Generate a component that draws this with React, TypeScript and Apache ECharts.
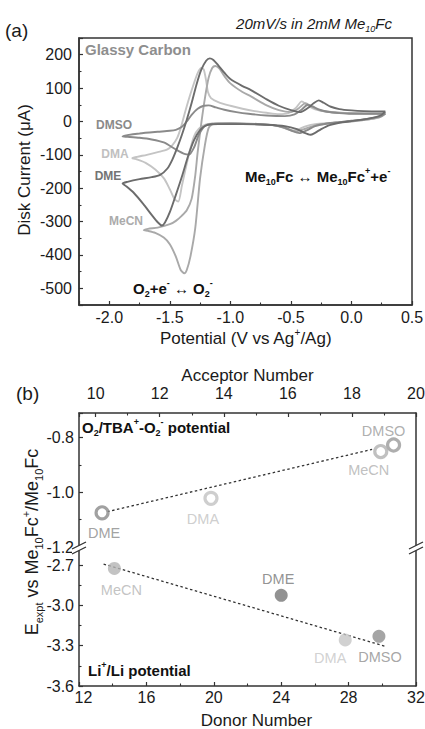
import React, { useEffect, useRef } from "react";
import * as echarts from "echarts";

const FONT = '"Liberation Sans", Arial, Helvetica, sans-serif';
const AXIS = "#333333";
const TXT = "#1a1a1a";

// ---------- Panel (a): cyclic voltammograms [V vs Ag+/Ag, µA] ----------
const cvDMSO: number[][] = [
  [0.28, 24], [0.25, 17], [0.2, 12], [0.1, 6], [0, 2], [-0.1, -2], [-0.2, -6], [-0.3, -14], [-0.37, -27], [-0.43, -35],
  [-0.48, -30], [-0.55, -19], [-0.65, -11], [-0.8, -8], [-1.0, -6], [-1.15, -7], [-1.21, -14], [-1.26, -40], [-1.3, -78],
  [-1.34, -99], [-1.38, -97], [-1.45, -84], [-1.55, -63], [-1.65, -54], [-1.75, -49], [-1.85, -46], [-1.89, -45],
  [-1.85, -41], [-1.75, -36], [-1.6, -31], [-1.5, -28], [-1.45, -25], [-1.4, -16], [-1.36, 0], [-1.32, 20], [-1.27, 38],
  [-1.22, 47], [-1.18, 48], [-1.12, 42], [-1.05, 35], [-0.95, 28], [-0.85, 23], [-0.7, 18], [-0.55, 16], [-0.47, 21],
  [-0.41, 36], [-0.36, 50], [-0.32, 45], [-0.27, 36], [-0.2, 29], [-0.1, 25], [0, 23], [0.1, 23], [0.28, 24],
];
const cvDMA: number[][] = [
  [0.28, 23], [0.25, 15], [0.2, 9], [0.1, 4], [0, 1], [-0.15, -4], [-0.3, -8], [-0.38, -15], [-0.44, -24], [-0.49, -28],
  [-0.54, -22], [-0.62, -13], [-0.75, -8], [-0.95, -6], [-1.1, -6], [-1.2, -9], [-1.26, -22], [-1.3, -45], [-1.34, -95],
  [-1.37, -142], [-1.4, -192], [-1.43, -240], [-1.46, -233], [-1.5, -203], [-1.55, -170], [-1.62, -144], [-1.7, -124],
  [-1.77, -114], [-1.81, -110],
  [-1.77, -106], [-1.69, -100], [-1.6, -92], [-1.52, -84], [-1.48, -72], [-1.44, -50], [-1.41, -20], [-1.38, 20],
  [-1.34, 70], [-1.3, 115], [-1.27, 145], [-1.24, 160], [-1.22, 156], [-1.2, 122], [-1.185, 88], [-1.16, 70],
  [-1.1, 58], [-1.0, 47], [-0.9, 38], [-0.8, 31], [-0.7, 26], [-0.6, 22], [-0.52, 25], [-0.46, 40], [-0.41, 60],
  [-0.37, 50], [-0.3, 36], [-0.2, 29], [-0.1, 26], [0.1, 24], [0.28, 23],
];
const cvDME: number[][] = [
  [0.28, 30], [0.25, 20], [0.2, 13], [0.1, 6], [0, 1], [-0.1, -4], [-0.18, -11], [-0.25, -23], [-0.3, -34], [-0.34, -40],
  [-0.39, -34], [-0.45, -23], [-0.55, -14], [-0.7, -10], [-0.9, -8], [-1.1, -8], [-1.2, -12], [-1.25, -26], [-1.3, -56],
  [-1.35, -105], [-1.4, -165], [-1.45, -220], [-1.5, -272], [-1.54, -303], [-1.565, -312], [-1.6, -302], [-1.65, -280],
  [-1.72, -247], [-1.8, -213], [-1.86, -194], [-1.89, -186],
  [-1.85, -181], [-1.75, -173], [-1.65, -167], [-1.58, -160], [-1.52, -141], [-1.48, -115], [-1.44, -80], [-1.4, -40],
  [-1.36, 5], [-1.32, 55], [-1.28, 110], [-1.24, 155], [-1.2, 182], [-1.17, 189], [-1.14, 184], [-1.1, 168],
  [-1.05, 146], [-1.0, 127], [-0.9, 106], [-0.83, 94], [-0.7, 66], [-0.6, 47], [-0.5, 34], [-0.42, 28], [-0.36, 40],
  [-0.31, 55], [-0.27, 63], [-0.23, 56], [-0.17, 44], [-0.1, 37], [0, 33], [0.1, 31], [0.28, 30],
];
const cvMeCN: number[][] = [
  [0.28, 24], [0.25, 16], [0.2, 10], [0.1, 4], [0, 0], [-0.1, -3], [-0.2, -6], [-0.3, -12], [-0.38, -22], [-0.46, -30],
  [-0.52, -23], [-0.6, -14], [-0.75, -8], [-0.95, -6], [-1.1, -6], [-1.15, -9], [-1.18, -20], [-1.21, -70], [-1.25, -170],
  [-1.29, -320], [-1.33, -405], [-1.36, -445], [-1.38, -455], [-1.41, -445], [-1.45, -405], [-1.5, -368], [-1.55, -348],
  [-1.62, -334], [-1.68, -328], [-1.715, -326],
  [-1.68, -322], [-1.6, -318], [-1.5, -308], [-1.45, -298], [-1.4, -282], [-1.36, -266], [-1.32, -232], [-1.29, -162],
  [-1.27, -92], [-1.24, -5], [-1.21, 70], [-1.18, 130], [-1.15, 160], [-1.124, 166], [-1.09, 158], [-1.05, 136],
  [-1.0, 114], [-0.9, 88], [-0.83, 75], [-0.7, 48], [-0.6, 34], [-0.5, 28], [-0.44, 38], [-0.38, 55], [-0.33, 44],
  [-0.25, 32], [-0.1, 26], [0.1, 24], [0.28, 24],
];
const cvNames = ["DMA", "MeCN", "DMSO", "DME"];
const cvData = [cvDMA, cvMeCN, cvDMSO, cvDME];
const cvColors = ["#c4c4c4", "#a9a9a9", "#8a8a8a", "#6c6c6c"];

// ---------- Panel (b) ----------
const solvents = ["DMSO", "DMA", "DME", "MeCN"];
const acceptorNumber = [19.3, 13.6, 10.2, 18.9];
const o2Potential = [-0.827, -1.022, -1.075, -0.851];
const donorNumber = [29.8, 27.8, 24.0, 14.1];
const liPotential = [-3.23, -3.257, -2.925, -2.725];
const o2FitX = [10.36, 18.63];
const o2FitY = [-1.071, -0.843];
const liFitX = [13.46, 30.2];
const liFitY = [-2.692, -3.305];

// styling (colors / label offsets per solvent)
const o2Colors = ["#9a9a9a", "#c2c2c2", "#8a8a8a", "#b0b0b0"];
const liColors = ["#8f8f8f", "#c6c6c6", "#777777", "#b4b4b4"];
const o2LabelOffset = [[-10, -14], [-8, 21], [2, 20], [-12, 18]];
const liLabelOffset = [[1, 21], [-15, 18], [-3, -16], [7, 22]];

const sub = (size: number, weight = "normal", fill = TXT, style = "normal") => ({
  fontFamily: FONT, fontSize: size, fontWeight: weight, fontStyle: style, fill, color: fill,
  verticalAlign: "bottom", lineHeight: size,
});
const sup = (size: number, weight = "normal", fill = TXT, style = "normal") => ({
  fontFamily: FONT, fontSize: size, fontWeight: weight, fontStyle: style, fill, color: fill,
  verticalAlign: "top", lineHeight: size,
});

function richText(x: number, y: number, text: string, size: number, opts: any = {}) {
  const weight = opts.weight || "normal";
  const fill = opts.fill || TXT;
  const fstyle = opts.fontStyle || "normal";
  const small = Math.round(size * 0.62);
  return {
    type: "text",
    x, y,
    rotation: opts.rotation || 0,
    z: 60,
    style: {
      text,
      fontFamily: FONT, fontSize: size, fontWeight: weight, fontStyle: fstyle,
      fill,
      lineHeight: Math.round(size * 1.35),
      align: opts.align || "left", verticalAlign: "middle",
      textAlign: opts.align || "left", textVerticalAlign: "middle",
      rich: {
        b: { fontFamily: FONT, fontSize: size, fontWeight: weight, fontStyle: fstyle, fill, lineHeight: Math.round(size * 1.35) },
        s: sub(small, weight, fill, fstyle),
        p: sup(small, weight, fill, fstyle),
      },
    },
  };
}

function breakMark(x: number, y: number) {
  return {
    type: "group",
    z: 80,
    children: [
      { type: "polygon", z: 80, shape: { points: [[x - 7, y + 1], [x + 7, y - 6], [x + 7, y - 1], [x - 7, y + 6]] }, style: { fill: "#ffffff" } },
      { type: "line", z: 81, shape: { x1: x - 7, y1: y + 1, x2: x + 7, y2: y - 6 }, style: { stroke: AXIS, lineWidth: 1.3 } },
      { type: "line", z: 81, shape: { x1: x - 7, y1: y + 6, x2: x + 7, y2: y - 1 }, style: { stroke: AXIS, lineWidth: 1.3 } },
    ],
  };
}

const axisLine = { show: true, onZero: false, lineStyle: { color: AXIS, width: 1.5 } };
const axisTick = { show: true, inside: true, length: 4, lineStyle: { color: AXIS, width: 1.2 } };
const minorTick = { show: true, splitNumber: 2, length: 2.5, lineStyle: { color: AXIS, width: 1.1 } };
const labelBase = { color: TXT, fontSize: 16, fontFamily: FONT };
const nameStyle = { color: TXT, fontSize: 17, fontFamily: FONT };

function buildOption(): any {
  const lineSeries = cvData.map((d, i) => ({
    type: "line",
    name: cvNames[i],
    xAxisIndex: 0,
    yAxisIndex: 0,
    data: d,
    showSymbol: false,
    smooth: 0.25,
    lineStyle: { color: cvColors[i], width: 1.9 },
    itemStyle: { color: cvColors[i] },
    z: 3 + i,
  }));

  const o2Points = solvents.map((s, i) => ({
    value: [acceptorNumber[i], o2Potential[i]],
    name: s,
    itemStyle: { color: "#ffffff", borderColor: o2Colors[i], borderWidth: 3.2 },
    label: {
      show: true, position: "inside", formatter: "{b}", offset: o2LabelOffset[i],
      color: o2Colors[i], fontSize: 14.5, fontFamily: FONT,
    },
  }));
  const liPoints = solvents.map((s, i) => ({
    value: [donorNumber[i], liPotential[i]],
    name: s,
    itemStyle: { color: liColors[i], borderWidth: 0 },
    label: {
      show: true, position: "inside", formatter: "{b}", offset: liLabelOffset[i],
      color: liColors[i], fontSize: 14.5, fontFamily: FONT,
    },
  }));

  const hiddenY = (gridIndex: number, min: number, max: number) => ({
    type: "value", gridIndex, position: "right", min, max,
    axisLine, axisTick: { show: false }, axisLabel: { show: false }, splitLine: { show: false },
  });

  return {
    animation: false,
    backgroundColor: "#ffffff",
    textStyle: { fontFamily: FONT },
    grid: [
      { left: 79, top: 38, width: 333, height: 267, show: true, borderColor: AXIS, borderWidth: 1.5, backgroundColor: "transparent", outerBoundsMode: "none" },
      { left: 79, top: 413, width: 337, height: 134, outerBoundsMode: "none" },
      { left: 79, top: 547, width: 337, height: 139, outerBoundsMode: "none" },
    ],
    xAxis: [
      {
        type: "value", gridIndex: 0, min: -2.25, max: 0.5, splitNumber: 5,
        axisLine, axisTick, minorTick, splitLine: { show: false }, minorSplitLine: { show: false },
        axisLabel: { ...labelBase, margin: 4, showMinLabel: false, formatter: (v: number) => v.toFixed(1) },
        name: "Potential (V vs Ag{p|+}/Ag)", nameLocation: "middle", nameGap: 22,
        nameTextStyle: { ...nameStyle, lineHeight: 22, rich: { p: { ...sup(10), fontFamily: FONT } } },
      },
      {
        type: "value", gridIndex: 1, position: "top", min: 9.48, max: 20, splitNumber: 5,
        axisLine, axisTick, minorTick, splitLine: { show: false },
        axisLabel: { ...labelBase, margin: 12, showMinLabel: false, formatter: (v: number) => String(Math.round(v)) },
        name: "Acceptor Number", nameLocation: "middle", nameGap: 25, nameTextStyle: nameStyle,
      },
      {
        type: "value", gridIndex: 2, min: 12, max: 32, interval: 4,
        axisLine, axisTick, minorTick, splitLine: { show: false },
        axisLabel: {
          ...labelBase, margin: 3,
          formatter: (v: number) => (v === 12 ? "{f|12}" : String(v)),
          rich: { f: { ...labelBase, padding: [0, 0, 0, 9] } },
        },
        name: "Donor Number", nameLocation: "middle", nameGap: 26,
        nameTextStyle: { ...nameStyle, padding: [0, 0, 0, 18] },
      },
    ],
    yAxis: [
      {
        type: "value", gridIndex: 0, min: -550, max: 250, splitNumber: 8,
        axisLine, axisTick, minorTick, splitLine: { show: false },
        axisLabel: { ...labelBase, margin: 7, showMinLabel: false, showMaxLabel: false, formatter: (v: number) => String(Math.round(v)) },
      },
      {
        type: "value", gridIndex: 1, min: -1.2, max: -0.71, interval: 0.2,
        axisLine, axisTick, minorTick, splitLine: { show: false },
        axisLabel: { ...labelBase, margin: 5, showMaxLabel: false, formatter: (v: number) => v.toFixed(1) },
      },
      hiddenY(1, -1.2, -0.71),
      {
        type: "value", gridIndex: 2, min: -3.6, max: -2.565, interval: 0.3,
        axisLine, axisTick, minorTick, splitLine: { show: false },
        axisLabel: { ...labelBase, margin: 5, showMaxLabel: false, formatter: (v: number) => v.toFixed(1) },
      },
      hiddenY(2, -3.6, -2.565),
    ],
    series: [
      ...lineSeries,
      {
        type: "line", name: "O2 fit", xAxisIndex: 1, yAxisIndex: 1,
        data: o2FitX.map((x, i) => [x, o2FitY[i]]),
        showSymbol: false, lineStyle: { color: AXIS, width: 1.3, type: [2.5, 2.5] }, z: 2,
      },
      {
        type: "scatter", name: "O2/TBA+-O2- potential", xAxisIndex: 1, yAxisIndex: 1,
        symbol: "circle", symbolSize: 12, data: o2Points, z: 5,
      },
      {
        type: "line", name: "Li fit", xAxisIndex: 2, yAxisIndex: 3,
        data: liFitX.map((x, i) => [x, liFitY[i]]),
        showSymbol: false, lineStyle: { color: AXIS, width: 1.3, type: [2.5, 2.5] }, z: 2,
      },
      {
        type: "scatter", name: "Li+/Li potential", xAxisIndex: 2, yAxisIndex: 3,
        symbol: "circle", symbolSize: 13, data: liPoints, z: 5,
      },
    ],
    graphic: [
      richText(5, 30, "(a)", 19),
      richText(314, 23, "20mV/s in 2mM Me{s|10}Fc", 15, { align: "center", fontStyle: "italic" }),
      richText(85, 49, "Glassy Carbon", 15, { weight: "bold", fill: "#8e8e8e" }),
      richText(114, 125, "DMSO", 12, { weight: "bold", fill: "#8a8a8a", align: "center" }),
      richText(115, 154, "DMA", 12, { weight: "bold", fill: "#c0c0c0", align: "center" }),
      richText(108, 176, "DME", 12, { weight: "bold", fill: "#747474", align: "center" }),
      richText(126, 221, "MeCN", 12, { weight: "bold", fill: "#ababab", align: "center" }),
      richText(245, 176, "Me{s|10}Fc ↔ Me{s|10}Fc{p|+}+e{p|-}", 15, { weight: "bold", fill: "#111111" }),
      richText(133, 288, "O{s|2}+e{p|-} ↔ O{s|2}{p|-}", 15, { weight: "bold", fill: "#111111" }),
      richText(24, 170, "Disk Current (μA)", 17, { align: "center", rotation: Math.PI / 2 }),
      richText(16, 393, "(b)", 19),
      richText(82, 427, "O{s|2}/TBA{p|+}-O{s|2}{p|-} potential", 15, { weight: "bold", fill: "#111111" }),
      richText(88, 670, "Li{p|+}/Li potential", 15, { weight: "bold", fill: "#111111" }),
      richText(32, 542, "E{s|expt} vs Me{s|10}Fc{p|+}/Me{s|10}Fc", 18, { align: "center", rotation: Math.PI / 2 }),
      breakMark(79, 548),
      breakMark(416, 548),
    ],
  };
}

export default function App() {
  const ref = useRef<HTMLDivElement>(null);
  useEffect(() => {
    if (!ref.current) return;
    const chart = echarts.init(ref.current, null, { renderer: "svg" });
    chart.setOption(buildOption());
    return () => chart.dispose();
  }, []);
  return (
    <div
      ref={ref}
      style={{ position: "absolute", left: 0, top: 0, width: 425, height: 729, background: "#ffffff" }}
    />
  );
}
